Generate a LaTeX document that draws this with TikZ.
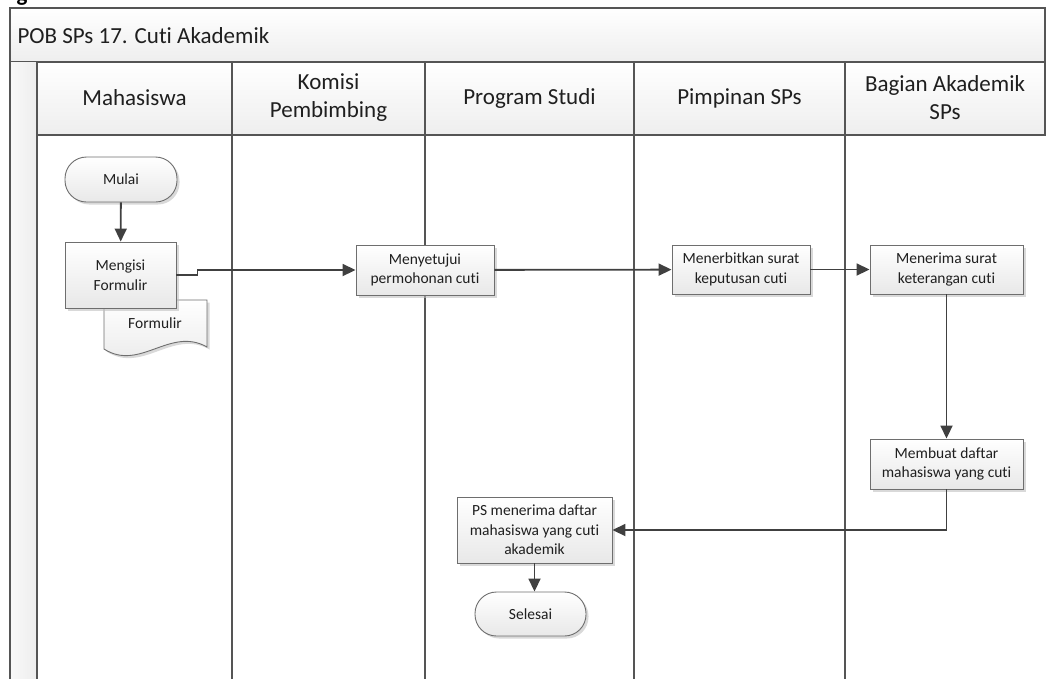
\documentclass[tikz,border=0pt]{standalone}
\usepackage{fontspec}
\setmainfont{Carlito}[Ligatures={NoCommon,NoContextual}, RawFeature={-liga;-clig;-calt}]
\usepackage{tikz}
\usetikzlibrary{arrows.meta,positioning,shadows}
\definecolor{figfill}{RGB}{232,232,232}
\definecolor{figband}{RGB}{238,238,238}
\definecolor{figborder}{RGB}{110,110,110}
\definecolor{figlane}{RGB}{85,85,85}
\definecolor{figline}{RGB}{64,64,64}
\newcommand{\figboxfont}{\fontsize{15.5}{19.5}\selectfont}
\newcommand{\figheadfont}{\fontsize{23}{28}\selectfont}
\tikzset{
  procbox/.style={draw=figborder, line width=0.9pt, top color=white, bottom color=figfill, inner sep=2pt, align=center, font=\figboxfont, text=black!88, drop shadow={shadow xshift=2.5pt, shadow yshift=-2.5pt, fill=black!25, opacity=0.6}},
  termbox/.style={procbox, rounded corners=21.5pt},
  docshape/.style={draw=figborder, line width=0.9pt, top color=white, bottom color=figfill, drop shadow={shadow xshift=2.5pt, shadow yshift=-2.5pt, fill=black!25, opacity=0.6}},
  band/.style={draw=figlane, line width=1.6pt, top color=white, bottom color=figband},
  laneline/.style={draw=figlane, line width=1.8pt},
  flow/.style={-{Triangle[length=13pt, width=12pt]}, draw=figline, line width=1.8pt},
  lanehead/.style={font=\figheadfont, align=center, text=black!88},
  figtitle/.style={font=\figheadfont, text=black!88}
}

\begin{document}
\begin{tikzpicture}[x=1pt,y=-1pt]
  \useasboundingbox (0,0) rectangle (1046,678);
  \node[font=\figheadfont\bfseries, anchor=base] (cut) at (22,1) {g};

  % pool frame
  \draw[band] (10,8) rectangle (1045,62);
  \node[figtitle, anchor=west] (title) at (14,36) {POB SPs 17. Cuti Akademik};
  \fill[left color=gray!5, right color=gray!14] (10,62) rectangle (37,690);
  \draw[band] (37,62) rectangle (1045,135);
  \draw[laneline] (10,8) -- (10,690);
  \draw[laneline] (37,62) -- (37,690);
  \foreach \x in {232,425,634,845}
    \draw[laneline] (\x,62) -- (\x,690);

  \node[lanehead] (laneA) at (134.5,98) {Mahasiswa};
  \node[lanehead] (laneB) at (328.5,98) {Komisi\\Pembimbing};
  \node[lanehead] (laneC) at (529.5,98) {Program Studi};
  \node[lanehead] (laneD) at (739.5,98) {Pimpinan SPs};
  \node[lanehead] (laneE) at (945,98) {Bagian Akademik\\SPs};

  % document behind the form box
  \draw[docshape] (104,300) -- (207,300) -- (207,347)
    .. controls (170,326) and (140,372) .. (104,349) -- cycle;
  \node[font=\figboxfont, text=black!88] (formdoc) at (155,323) {Formulir};

  \node[termbox, minimum width=112pt, minimum height=45pt] (start) at (121,179.5) {Mulai};
  \node[procbox, minimum width=111pt, minimum height=66pt] (fill) at (120.5,275) {Mengisi\\Formulir};
  \node[procbox, minimum width=138pt, minimum height=50pt] (approve) at (425,270) {Menyetujui\\permohonan cuti};
  \node[procbox, minimum width=138pt, minimum height=49pt] (issue) at (741,269.5) {Menerbitkan surat\\keputusan cuti};
  \node[procbox, minimum width=153pt, minimum height=49pt] (receive) at (946.5,269.5) {Menerima surat\\keterangan cuti};
  \node[procbox, minimum width=153pt, minimum height=50pt] (list) at (946.5,464) {Membuat daftar\\mahasiswa yang cuti};
  \node[procbox, minimum width=155pt, minimum height=66pt] (ps) at (534.5,530) {PS menerima daftar\\mahasiswa yang cuti\\akademik};
  \node[termbox, minimum width=111pt, minimum height=44pt] (finish) at (530.5,614) {Selesai};

  \draw[flow] (start) -- (fill);
  \draw[flow] (fill.east) -- ++(21,0) coordinate (jog) |- (approve.west);
  \draw[flow] (approve) -- (issue);
  \draw[flow] (issue) -- (receive);
  \draw[flow] (receive) -- (list);
  \draw[flow] (list.south) |- (ps.east);
  \draw[flow] (ps.south) -- (ps.south |- finish.north);
\end{tikzpicture}
\end{document}
